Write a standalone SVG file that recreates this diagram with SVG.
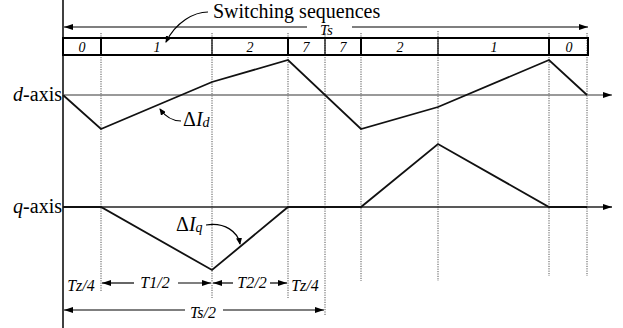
<svg xmlns="http://www.w3.org/2000/svg" width="623" height="328" viewBox="0 0 623 328" font-family="'Liberation Serif', 'DejaVu Serif', serif">
<style>
text{font-family:'Liberation Serif','DejaVu Serif',serif;fill:#000}
.it{font-style:italic}
.lbl{font-size:20px}
.box{font-size:14px;font-style:italic;text-anchor:middle}
.bt{font-size:16px;font-style:italic;text-anchor:middle}
.dot{stroke:#555;stroke-width:1;stroke-dasharray:1.2 1.2;fill:none}
.ln{stroke:#000;stroke-width:1.2;fill:none}
.wave{stroke:#111;stroke-width:1.8;fill:none;stroke-linejoin:miter}
.div1{stroke:#000;stroke-width:2}
.div2{stroke:#000;stroke-width:1.2}
</style>
<defs>
<marker id="ah" markerWidth="9" markerHeight="6" refX="9" refY="3" orient="auto" markerUnits="userSpaceOnUse">
<path d="M0,0 L9,3 L0,6 z" fill="#000"/>
</marker>
<marker id="ahs" markerWidth="7" markerHeight="6" refX="6" refY="3" orient="auto" markerUnits="userSpaceOnUse">
<path d="M0,0 L7,3 L0,6 z" fill="#000"/>
</marker>
</defs>
<g id="grid">
<line class="dot" x1="101" y1="33" x2="101" y2="292"/>
<line class="dot" x1="212" y1="33" x2="212" y2="298"/>
<line class="dot" x1="288" y1="33" x2="288" y2="298"/>
<line class="dot" x1="325" y1="33" x2="325" y2="315"/>
<line class="dot" x1="361" y1="33" x2="361" y2="281"/>
<line class="dot" x1="438" y1="31" x2="438" y2="281"/>
<line class="dot" x1="549" y1="33" x2="549" y2="276"/>
<line class="dot" x1="587" y1="33" x2="587" y2="276"/>
</g>
<g id="left-axis">
<line x1="63" y1="0" x2="63" y2="328" stroke="#000" stroke-width="1.5"/>
</g>
<g id="sequence-box">
<rect x="63" y="38" width="525" height="17" fill="none" stroke="#000" stroke-width="2"/>
<line class="div1" x1="101" y1="38" x2="101" y2="55"/>
<line class="div2" x1="212" y1="38" x2="212" y2="55"/>
<line class="div1" x1="288" y1="38" x2="288" y2="55"/>
<line class="div2" x1="325" y1="38" x2="325" y2="55"/>
<line class="div1" x1="361" y1="38" x2="361" y2="55"/>
<line class="div2" x1="438" y1="38" x2="438" y2="55"/>
<line class="div1" x1="549" y1="38" x2="549" y2="55"/>
<text class="box" x="82" y="52">0</text>
<text class="box" x="157" y="52">1</text>
<text class="box" x="250" y="52">2</text>
<text class="box" x="306" y="52">7</text>
<text class="box" x="343" y="52">7</text>
<text class="box" x="400" y="52">2</text>
<text class="box" x="494" y="52">1</text>
<text class="box" x="569" y="52">0</text>
</g>
<g id="axes">
<line x1="63" y1="95" x2="612" y2="95" stroke="#777" stroke-width="1.6" marker-end="url(#ah)"/>
<line x1="63" y1="207" x2="612" y2="207" stroke="#222" stroke-width="1.4" marker-end="url(#ah)"/>
<text class="lbl" x="62" y="101" text-anchor="end"><tspan class="it">d</tspan>-axis</text>
<text class="lbl" x="62" y="213" text-anchor="end"><tspan class="it">q</tspan>-axis</text>
</g>
<g id="waveforms">
<polyline class="wave" points="63,95 101,129 212,82 288,60 361,129 438,107 549,60 587,95"/>
<polyline class="wave" points="63,207 101,207 212,270 288,207 361,207 438,144 549,207 587,207"/>
</g>
<g id="labels">
<text class="lbl" x="213" y="18">Switching sequences</text>
<text x="320" y="35" font-size="15" class="it">Ts</text>
<text x="183" y="126" font-size="20">Δ<tspan class="it">I</tspan><tspan class="it" font-size="14" dy="1">d</tspan></text>
<text x="176" y="231" font-size="20">Δ<tspan class="it">I</tspan><tspan class="it" font-size="14" dy="1">q</tspan></text>
<text class="bt" x="81" y="291">Tz/4</text>
<text class="bt" x="155" y="288">T1/2</text>
<text class="bt" x="252" y="288">T2/2</text>
<text class="bt" x="305" y="291">Tz/4</text>
<text class="bt" x="203" y="318">Ts/2</text>
</g>
<g id="connectors">
<line class="ln" x1="307" y1="27" x2="64" y2="27" marker-end="url(#ah)"/>
<line class="ln" x1="352" y1="27" x2="588" y2="27" marker-end="url(#ah)"/>
<path class="ln" d="M208,12 C194,12 176,22 166,42" marker-end="url(#ahs)"/>
<path class="ln" d="M181,121 C172,121 165,116 160,109" marker-end="url(#ahs)"/>
<path class="ln" d="M206,225 C225,222 238,232 240,244" marker-end="url(#ahs)"/>
<line class="ln" x1="134" y1="283" x2="102" y2="283" marker-end="url(#ah)"/>
<line class="ln" x1="178" y1="283" x2="211" y2="283" marker-end="url(#ah)"/>
<line class="ln" x1="233" y1="283" x2="213" y2="283" marker-end="url(#ah)"/>
<line class="ln" x1="270" y1="283" x2="287" y2="283" marker-end="url(#ah)"/>
<line class="ln" x1="185" y1="310" x2="64" y2="310" marker-end="url(#ah)"/>
<line class="ln" x1="223" y1="310" x2="324" y2="310" marker-end="url(#ah)"/>
</g>
</svg>
